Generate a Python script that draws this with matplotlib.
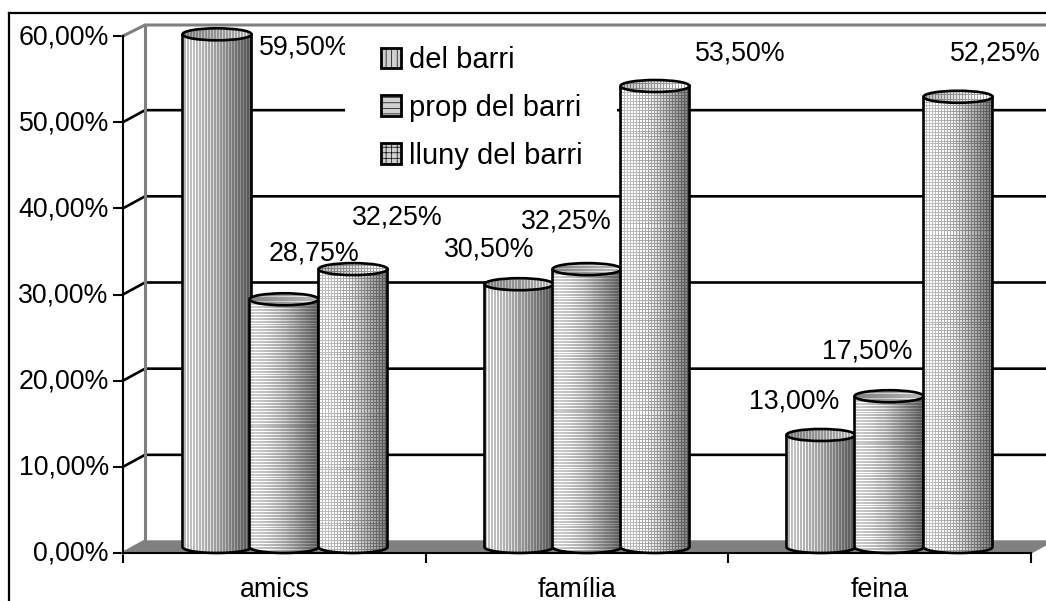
#!/usr/bin/env python3
# -*- coding: utf-8 -*-
import numpy as np
import matplotlib
matplotlib.use("Agg")
import matplotlib.pyplot as plt
from matplotlib.lines import Line2D
from matplotlib.patches import Ellipse, PathPatch, Polygon, Rectangle
from matplotlib.path import Path
from matplotlib.transforms import ScaledTranslation

plt.rcParams['font.family'] = ['Liberation Sans', 'DejaVu Sans']
plt.rcParams['hatch.linewidth'] = 0.5

categories = ['amics', 'família', 'feina']
series_names = ['del barri', 'prop del barri', 'lluny del barri']
del_barri = [59.50, 30.50, 13.00]
prop_barri = [28.75, 32.25, 17.50]
lluny_barri = [32.25, 53.50, 52.25]
yticks = [0, 10, 20, 30, 40, 50, 60]

W, H = 1046, 601
X0, X1, Y0, Y60 = 123, 1031, 553, 36
FS = 19.3
fig = plt.figure(figsize=(W / 100, H / 100), dpi=100)
ax = fig.add_axes([X0 / W, 1 - Y0 / H, (X1 - X0) / W, (Y0 - Y60) / H])
ax.patch.set_alpha(0)

px_x = 3 / (X1 - X0)
px_y = 60 / (Y0 - Y60)


def px(x, y):
    # figure pixels to data coords
    return (x - X0) * px_x, (Y0 - y) * px_y


def texture(w, h, kind, top=False):
    # cylinder shading with the stripe pattern on it
    xs = np.linspace(0, 1, w)
    shade = np.interp(xs, [0, 0.08, 0.45, 0.8, 1], [0.74, 0.80, 0.66, 0.46, 0.34])
    if top:
        shade = np.interp(xs, [0, 1], [0.50, 0.72])
    img = np.tile(shade, (h, 1))
    cols = np.arange(w) % 3 == 0
    rows = np.arange(h) % 3 == 0
    if kind == 0:
        mask = np.tile(cols, (h, 1))
        img = np.where(mask, img * 1.3, img * 0.95)
    elif kind == 1:
        mask = np.tile(rows[:, None], (1, w))
        img = np.where(mask, img * 1.35, img * 1.0)
    else:
        mask = np.tile(cols, (h, 1)) | np.tile(rows[:, None], (1, w))
        img = np.where(mask, img * 0.95, img * 1.45)
    return np.clip(img, 0, 1)


def cylinder(xc, value, kind, z):
    x, base = px(xc, 547)
    half = 34.5 * px_x
    ry = 6 * px_y
    top = base + value
    ts = np.linspace(np.pi, 2 * np.pi, 40)
    bx = x + half * np.cos(ts)
    by = base + ry * np.sin(ts)
    verts = [(x - half, top)] + list(zip(bx, by)) + [(x + half, top), (x - half, top)]
    body = Path(verts)
    w = 69
    h = int((value + 2 * ry) / px_y)
    im = ax.imshow(texture(w, h, kind), cmap='gray', vmin=0, vmax=1, aspect='auto',
                   interpolation='nearest', zorder=z,
                   extent=(x - half, x + half, base - ry, top))
    clip = PathPatch(body, transform=ax.transData, fc='none', ec='none')
    im.set_clip_path(clip)
    ax.add_patch(PathPatch(body, fc='none', ec='black', lw=1.9, zorder=z + 0.1, clip_on=False))
    cap = Ellipse((x, top), 2 * half, 2 * ry, fc='none', ec='black', lw=1.9, zorder=z + 0.2,
                  clip_on=False)
    im2 = ax.imshow(texture(w, 13, kind, top=True), cmap='gray', vmin=0, vmax=1, aspect='auto',
                    interpolation='nearest', zorder=z + 0.15,
                    extent=(x - half, x + half, top - ry, top + ry))
    ax.add_patch(cap)
    im2.set_clip_box(fig.bbox)
    im2.set_clip_path(Ellipse((x, top), 2 * half, 2 * ry, transform=ax.transData))


# walls and floor
DX, DY = 22, 12
GRAY = '#808080'
ax.add_patch(Polygon([px(X0, Y0), px(X1, Y0), px(X1 + DX, Y0 - DY), px(X0 + DX, Y0 - DY)],
                     fc=GRAY, ec=GRAY, lw=1, zorder=1, clip_on=False))
for v in yticks[1:-1]:
    y = Y0 - v / px_y
    xa, ya = px(X0, y)
    xb, yb = px(X0 + DX, y - DY)
    xc, _ = px(W + 5, 0)
    ax.plot([xa, xb, xc], [ya, yb, yb], color='black', lw=1.9, zorder=2, clip_on=False)
xa, ya = px(X0, Y60)
xb, yb = px(X0 + DX, 25)
xc, _ = px(W + 5, 0)
ax.plot([xa, xb, xc], [ya, yb, yb], color=GRAY, lw=2.2, zorder=2, clip_on=False)
xe, ye = px(X0 + DX, Y0 - DY)
ax.plot([xb, xe], [yb, ye], color=GRAY, lw=2.2, zorder=2, clip_on=False)
xa, ya = px(X0, Y0)
ax.plot([xa, xe], [ya, ye], color=GRAY, lw=2.2, zorder=2, clip_on=False)

# cylinders
bar_x = [[217, 519, 821], [284, 587, 889], [353, 655, 958]]
series = [del_barri, prop_barri, lluny_barri]
for k, vals in enumerate(series):
    for j, v in enumerate(vals):
        cylinder(bar_x[k][j], v, k, 5 + k)

# value labels, placed by hand like in the original
label_pos = [[(259, 48), (444, 249), (749, 402)],
             [(269, 254), (521, 221), (822, 352)],
             [(352, 218), (695, 54), (950, 53)]]
for k, vals in enumerate(series):
    for j, v in enumerate(vals):
        tx, ty = px(*label_pos[k][j])
        ax.text(tx, ty, f'{v:.2f}%'.replace('.', ','), fontsize=FS, ha='left',
                va='center', zorder=15, clip_on=False)

# white legend box hides the gridline and cuts the 59,50% label
bx0, by0 = px(345, 185)
bx1, by1 = px(617, 30)
ax.add_patch(Rectangle((bx0, by0), bx1 - bx0, by1 - by0, fc='white', ec='none', zorder=20))
handles = [Rectangle((0, 0), 1, 1, fc='#d0d0d0', ec='black', lw=2, hatch=h)
           for h in ['|||', '---', '+++']]
lx, ly = px(381, 46)
leg = ax.legend(handles, series_names, loc='upper left', bbox_to_anchor=(lx, ly),
                bbox_transform=ax.transData, frameon=False, fontsize=21, borderpad=0,
                borderaxespad=0, handlelength=0.7, handleheight=0.7, handletextpad=0.25,
                labelspacing=0.68)
leg.set_zorder(21)

# axes
ax.set_xlim(0, 3)
ax.set_ylim(0, 60)
ax.set_yticks(yticks)
ax.set_yticklabels([f'{v:.2f}%'.replace('.', ',') for v in yticks], fontsize=FS)
ax.set_xticks([0, 1, 2, 3])
ax.set_xticklabels([])
ax.set_xticks([0.5, 1.5, 2.5], minor=True)
ax.set_xticklabels(categories, minor=True, fontsize=FS)
ax.tick_params(axis='both', which='major', length=7.2, width=1.5, pad=3)
ax.tick_params(axis='x', which='minor', length=0, pad=17)
# tick labels sit a bit higher in the original
shift = ScaledTranslation(0, 2 / 100, fig.dpi_scale_trans)
for lab in ax.get_yticklabels():
    lab.set_transform(lab.get_transform() + shift)
for s in ['top', 'right']:
    ax.spines[s].set_visible(False)
for s in ['left', 'bottom']:
    ax.spines[s].set_linewidth(1.5)
    ax.spines[s].set_zorder(12)

# outer chart frame, right and bottom run off the picture
fig.add_artist(Line2D([9 / W, 9 / W], [0, 1 - 13 / H], color='black', lw=1.6))
fig.add_artist(Line2D([9 / W, 1], [1 - 13 / H, 1 - 13 / H], color='black', lw=1.6))

fig.savefig('out.png', dpi=100)
